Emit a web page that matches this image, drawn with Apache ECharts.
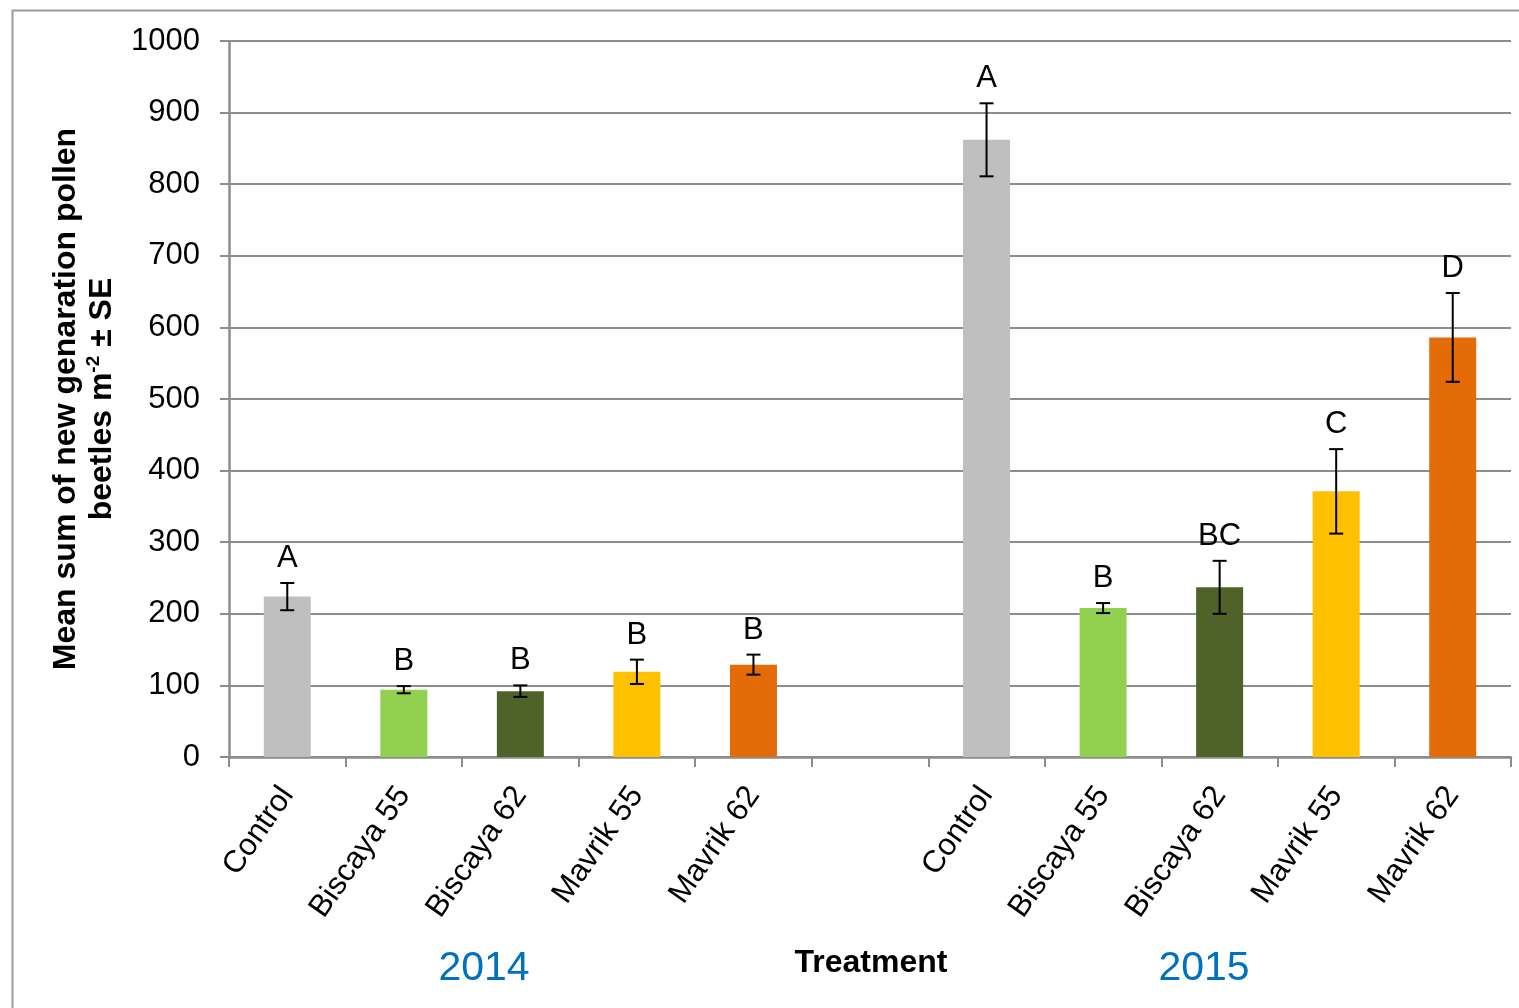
<!DOCTYPE html>
<html><head><meta charset="utf-8">
<script src="https://cdn.jsdelivr.net/npm/echarts@6/dist/echarts.min.js"></script>
<style>html,body{margin:0;padding:0;background:#fff}#c{width:1519px;height:1008px}</style>
</head><body><div id="c"></div>
<script>
const categories = ['Control','Biscaya 55','Biscaya 62','Mavrik 55','Mavrik 62','','Control','Biscaya 55','Biscaya 62','Mavrik 55','Mavrik 62'];
const means = [224, 94, 92, 119, 129, null, 862, 208, 237, 371, 586];
const se = [19, 5, 8, 17, 14, null, 51, 7, 37, 59, 62];
const letters = ['A','B','B','B','B','','A','B','BC','C','D'];
const barColors = ['#BFBFBF','#92D050','#4F6228','#FFC000','#E36C09',null,'#BFBFBF','#92D050','#4F6228','#FFC000','#E36C09'];
const yearLabels = ['2014','2015'];
const xTitle = 'Treatment';

const FONT = '"Liberation Sans", Arial, sans-serif';
const GRID = '#8c8c8c';

const barData = means.map((v, i) => v == null ? '-' : { value: v, itemStyle: { color: barColors[i] } });
const errData = [];
means.forEach((v, i) => { if (v != null) errData.push([i, v, se[i]]); });

const chart = echarts.init(document.getElementById('c'), null, { renderer: 'canvas' });
chart.setOption({
  animation: false,
  backgroundColor: '#fff',
  grid: { left: 229, right: 8, top: 41, bottom: 251, containLabel: false },
  xAxis: {
    type: 'category', data: categories, boundaryGap: true,
    axisLine: { lineStyle: { color: GRID, width: 2.5 } },
    axisTick: { show: true, length: 10, interval: 0, lineStyle: { color: GRID, width: 2 } },
    axisLabel: { interval: 0, rotate: 55, margin: 33, fontSize: 31, fontFamily: FONT, color: '#000' },
    name: ''
  },
  yAxis: {
    type: 'value', min: 0, max: 1000, interval: 100,
    axisLine: { show: true, lineStyle: { color: GRID, width: 2.5 } },
    axisTick: { show: true, length: 9, lineStyle: { color: GRID, width: 2 } },
    splitLine: { lineStyle: { color: GRID, width: 2 } },
    axisLabel: { margin: 29, fontSize: 31, fontFamily: FONT, color: '#000', formatter: v => String(v) },
    name: 'Mean sum of new genaration pollen\n{b|beetles m}{sup|-2}{b| \u00b1 SE}',
    nameLocation: 'middle', nameRotate: 90, nameGap: 108,
    nameTextStyle: {
      fontSize: 32, fontWeight: 'bold', fontFamily: FONT, color: '#000', lineHeight: 36,
      rich: {
        b: { fontSize: 32, fontWeight: 'bold', fontFamily: FONT, color: '#000', lineHeight: 36 },
        sup: { fontSize: 19, fontWeight: 'bold', fontFamily: FONT, color: '#000', lineHeight: 36, verticalAlign: 'top', padding: [0, 0, 12, 0] }
      }
    }
  },
  series: [
    { type: 'bar', data: barData, barWidth: 47, z: 2 },
    {
      type: 'custom', data: errData, z: 3,
      renderItem: function (params, api) {
        const i = api.value(0), m = api.value(1), s = api.value(2);
        const t = api.coord([i, m + s]);
        const b = api.coord([i, m - s]);
        const hw = 7;
        const st = { stroke: '#000', lineWidth: 2 };
        return {
          type: 'group', children: [
            { type: 'line', shape: { x1: t[0], y1: t[1], x2: b[0], y2: b[1] }, style: st },
            { type: 'line', shape: { x1: t[0] - hw, y1: t[1], x2: t[0] + hw, y2: t[1] }, style: st },
            { type: 'line', shape: { x1: b[0] - hw, y1: b[1], x2: b[0] + hw, y2: b[1] }, style: st },
            { type: 'text', style: { text: letters[i], x: t[0], y: t[1] - 9, align: 'center', verticalAlign: 'bottom', fontSize: 31, fontFamily: FONT, fill: '#000' } }
          ]
        };
      }
    }
  ],
  graphic: [
    { type: 'rect', left: 10, top: 8, shape: { width: 1530, height: 1020 }, style: { fill: 'none', stroke: '#9a9a9a', lineWidth: 2 }, z: -1 },
    { type: 'text', x: 484, y: 969, style: { text: yearLabels[0], align: 'center', verticalAlign: 'middle', fontSize: 41, fontFamily: FONT, fill: '#0070C0' } },
    { type: 'text', x: 1204, y: 969, style: { text: yearLabels[1], align: 'center', verticalAlign: 'middle', fontSize: 41, fontFamily: FONT, fill: '#0070C0' } },
    { type: 'text', x: 871, y: 963, style: { text: xTitle, align: 'center', verticalAlign: 'middle', fontSize: 32, fontWeight: 'bold', fontFamily: FONT, fill: '#000' } }
  ]
});
</script></body></html>
